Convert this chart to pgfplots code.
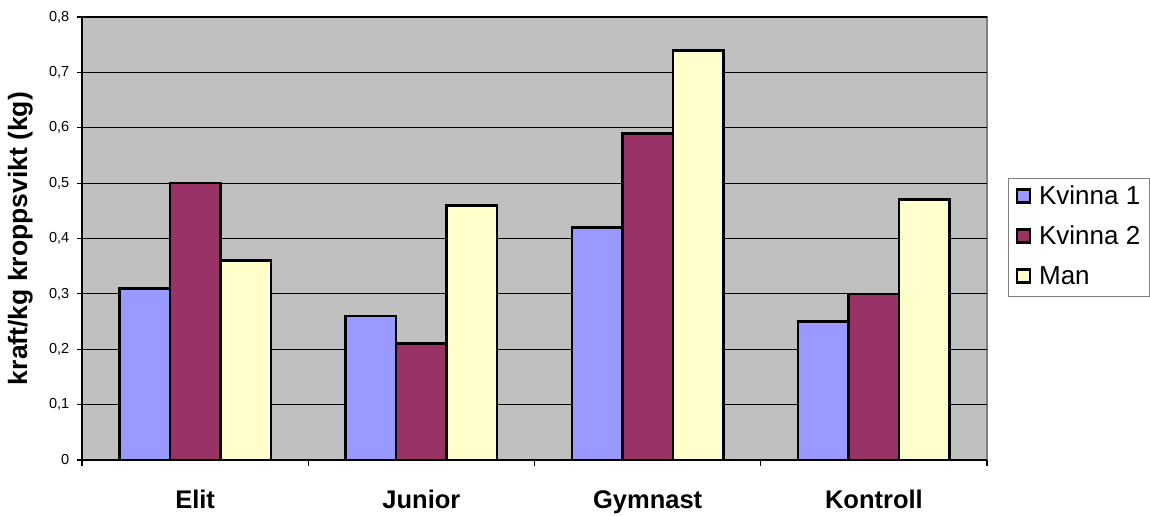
\documentclass[border=0pt]{standalone}
\usepackage{fontspec}
\setmainfont{Liberation Sans}
\usepackage{pgfplots}
\pgfplotsset{compat=1.18}

\definecolor{kvinnaA}{HTML}{9999FF}
\definecolor{kvinnaB}{HTML}{993366}
\definecolor{manC}{HTML}{FFFFCC}
\definecolor{plotbg}{HTML}{C0C0C0}
\definecolor{frameGray}{HTML}{808080}

\begin{document}
\begin{tikzpicture}
\useasboundingbox (0,0) rectangle (1150pt,516pt);
\begin{axis}[
  at={(82pt,56pt)}, anchor=south west,
  scale only axis,
  width=905pt, height=443pt,
  ybar=0pt, bar width=50.5pt,
  xmin=-0.5, xmax=3.5,
  ymin=0, ymax=0.8,
  axis lines=left,
  axis line style={-, black, line width=1.8pt},
  axis background/.style={fill=plotbg, draw=frameGray, line width=2.5pt},
  ymajorgrids,
  grid style={black, line width=1.2pt},
  tick align=outside,
  major tick length=5.5pt,
  tick style={black, line width=1.2pt},
  xtick={-0.5,0.5,1.5,2.5,3.5},
  xticklabels={},
  extra x ticks={0,1,2,3},
  extra x tick labels={Elit,Junior,Gymnast,Kontroll},
  extra x tick style={major tick length=0pt,
    xticklabel style={font=\fontsize{25.5}{30}\selectfont\bfseries, anchor=base, inner sep=0pt, yshift=-48pt}},
  ytick={0,0.1,...,0.8},
  scaled y ticks=false,
  yticklabel style={font=\fontsize{14.5}{17}\selectfont, anchor=east, inner sep=0pt, xshift=-7pt,
    /pgf/number format/.cd, use comma, fixed, precision=1, assume math mode=true},
  ylabel={kraft/kg kroppsvikt (kg)},
  ylabel style={font=\fontsize{26.5}{30}\selectfont\bfseries, at={(axis description cs:-0.0541,0.5)}, anchor=south, inner sep=0pt},
  legend image code/.code={\draw[#1] (0pt,-5pt) rectangle (13pt,8pt);},
  legend style={at={(1.0232,0.6366)}, anchor=north west,
    draw=frameGray, line width=1pt, fill=white,
    font=\fontsize{26}{30}\selectfont,
    inner xsep=7pt, inner ysep=5pt, row sep=12pt,
    nodes={inner sep=2pt, text height=19pt, text depth=5pt},
    /tikz/every odd column/.append style={column sep=6pt},
    cells={anchor=west}},
  legend cell align=left,
]
% bar groups: Elit, Junior, Gymnast, Kontroll
\addplot[fill=kvinnaA, draw=black, line width=2.6pt] coordinates {(0,0.31) (1,0.26) (2,0.42) (3,0.25)};
\addplot[fill=kvinnaB, draw=black, line width=2.6pt] coordinates {(0,0.50) (1,0.21) (2,0.59) (3,0.30)};
\addplot[fill=manC, draw=black, line width=2.6pt] coordinates {(0,0.36) (1,0.46) (2,0.74) (3,0.47)};
\legend{Kvinna 1, Kvinna 2, Man}
\end{axis}
\end{tikzpicture}
\end{document}
